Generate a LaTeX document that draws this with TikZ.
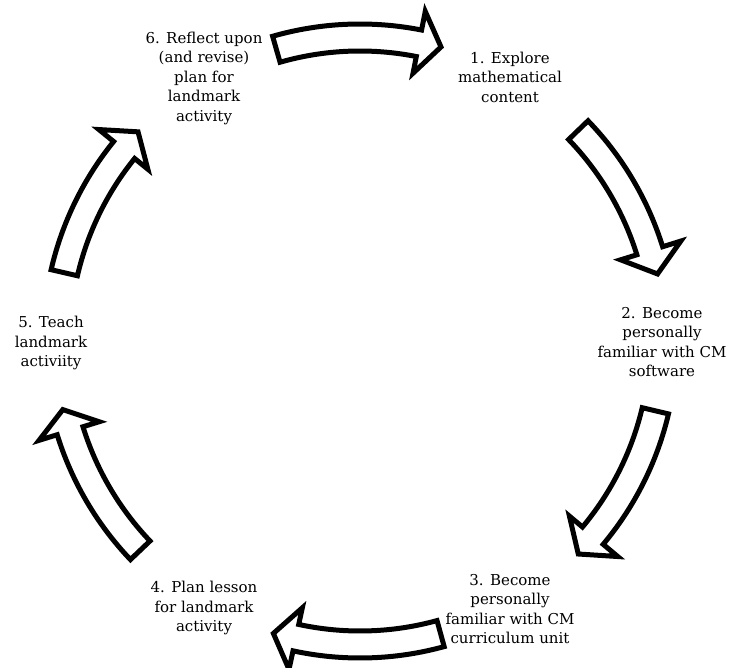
\documentclass[tikz,border=0pt]{standalone}
\usepackage{fontspec}
\setmainfont{DejaVu Serif}
% curved block arrow around the hub: start angle, barb angle, tip angle
\newcommand\blockarc[3]{%
  \draw[cyclearrow] ([shift={(#1:317)}]hub)
    arc[start angle=#1, end angle=#2, radius=317pt]
    -- ([shift={(#2:336)}]hub)
    -- ([shift={(#3:305)}]hub)
    -- ([shift={(#2:273)}]hub)
    -- ([shift={(#2:290)}]hub)
    arc[start angle=#2, end angle=#1, radius=290pt]
    -- cycle;}
\begin{document}
\begin{tikzpicture}[x=1pt,y=1pt,
  cyclearrow/.style={draw=black, fill=white, line width=5pt, line join=miter, miter limit=6},
  stage/.style={align=center, font=\fontsize{15}{19.5}\selectfont, inner sep=0pt}]
\useasboundingbox (0,0) rectangle (731,-668);
\coordinate (hub) at (360,-341);

% the six stages
\node[stage] (s1) at (510,-77)  {1. Explore\\mathematical\\content};
\node[stage] (s2) at (662,-342) {2. Become\\personally\\familiar with CM\\software};
\node[stage] (s3) at (510,-609) {3. Become\\personally\\familiar with CM\\curriculum unit};
\node[stage] (s4) at (204,-608) {4. Plan lesson\\for landmark\\activity};
\node[stage] (s5) at (51,-343)  {5. Teach\\landmark\\activiity};
\node[stage] (s6) at (204,-78)  {6. Reflect upon\\(and revise)\\plan for\\landmark\\activity};

% clockwise arrows between the stages
\blockarc{106}{78.8}{74.6}
\blockarc{44}{17.3}{12.7}
\blockarc{-13.3}{-39.9}{-44.3}
\blockarc{-74.6}{-102.2}{-106.5}
\blockarc{-136.4}{-162.8}{-167.0}
\blockarc{167.0}{141.0}{136.7}
\end{tikzpicture}
\end{document}
